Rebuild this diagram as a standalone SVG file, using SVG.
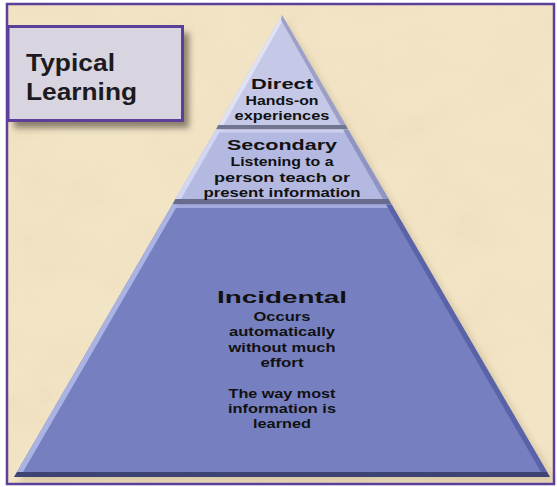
<svg xmlns="http://www.w3.org/2000/svg" width="557" height="487" viewBox="0 0 557 487">
  <defs>
    <filter id="paper" x="0" y="0" width="100%" height="100%">
      <feTurbulence type="fractalNoise" baseFrequency="0.012 0.018" numOctaves="4" seed="7" result="n"/>
      <feColorMatrix in="n" type="matrix" values="0 0 0 0 0.86  0 0 0 0 0.74  0 0 0 0 0.52  2.8 0 0 0 -1.05"/>
    </filter>
    <filter id="soft" x="-20%" y="-20%" width="140%" height="140%">
      <feGaussianBlur stdDeviation="3"/>
    </filter>
    <style>
      .frame{fill:none;stroke:#5b3f99;stroke-width:2.5}
      .title{font-family:"Liberation Sans",Arial,sans-serif;font-weight:bold;font-size:24px;fill:#1c1a1e}
      .head{font-family:"Liberation Sans",Arial,sans-serif;font-weight:bold;fill:#111;text-anchor:middle}
      .h1{font-size:15px}
      .h2{font-size:13px}
      .h3{font-size:17px}
    </style>
  </defs>

  <!-- background -->
  <rect x="0" y="0" width="557" height="487" fill="#ffffff"/>
  <rect x="7" y="4" width="547" height="480" fill="#f2e5c6"/>
  <rect x="7" y="4" width="547" height="480" filter="url(#paper)" opacity="0.7"/>

  <!-- soft pyramid shadow -->
  <polygon points="286,20 556,482 18,482" fill="#8a7a55" opacity="0.25" filter="url(#soft)"/>

  <!-- Direct tier -->
  <g id="tier-direct">
    <polygon points="282,15 345.8,125 218.2,125" fill="#c5c8e7"/>
    <polygon points="282,15 218.2,125 223.5,125 283,20" fill="#e0e2f4"/>
    <polygon points="282,15 345.8,125 340.5,125 281,20" fill="#9d9fc6"/>
    <polygon points="218.2,125 345.8,125 348.1,129.5 215.9,129.5" fill="#72758f"/>
    <text class="head h1" x="282" y="89" textLength="62" lengthAdjust="spacingAndGlyphs">Direct</text>
    <text class="head h2" x="282" y="105" textLength="73" lengthAdjust="spacingAndGlyphs">Hands-on</text>
    <text class="head h2" x="282" y="120" textLength="95" lengthAdjust="spacingAndGlyphs">experiences</text>
  </g>

  <!-- Secondary tier -->
  <g id="tier-secondary">
    <polygon points="215.9,129.5 348.1,129.5 388.7,199 175.3,199" fill="#b4b9e1"/>
    <polygon points="215.9,129.5 348.1,129.5 346.5,132.5 217.5,132.5" fill="#ccd0ee"/>
    <polygon points="215.9,129.5 175.3,199 181,199 221,129.5" fill="#d3d6f0"/>
    <polygon points="348.1,129.5 388.7,199 383,199 343,129.5" fill="#8f94c2"/>
    <polygon points="175.3,199 388.7,199 391.6,204.5 172.4,204.5" fill="#676b8c"/>
    <text class="head h1" x="282" y="150" textLength="110" lengthAdjust="spacingAndGlyphs">Secondary</text>
    <text class="head h2" x="282" y="166" textLength="103" lengthAdjust="spacingAndGlyphs">Listening to a</text>
    <text class="head h2" x="282" y="182" textLength="136" lengthAdjust="spacingAndGlyphs">person teach or</text>
    <text class="head h2" x="282" y="197" textLength="157" lengthAdjust="spacingAndGlyphs">present information</text>
  </g>

  <!-- Incidental tier -->
  <g id="tier-incidental">
    <polygon points="172.4,204.5 391.6,204.5 547.1,472 16.9,472" fill="#7680c1"/>
    <polygon points="172.4,204.5 391.6,204.5 389.8,208 174.2,208" fill="#a3aadd"/>
    <polygon points="172.4,204.5 16.9,472 23,472 178,204.5" fill="#abb3e3"/>
    <polygon points="391.6,204.5 547.1,472 541,472 386,204.5" fill="#5a63a7"/>
    <polygon points="16.9,472 547.1,472 550,477 14,477" fill="#3d4474"/>
    <text class="head h3" x="282" y="303" textLength="130" lengthAdjust="spacingAndGlyphs">Incidental</text>
    <text class="head h2" x="282" y="320.5" textLength="57" lengthAdjust="spacingAndGlyphs">Occurs</text>
    <text class="head h2" x="282" y="336" textLength="106" lengthAdjust="spacingAndGlyphs">automatically</text>
    <text class="head h2" x="282" y="351.5" textLength="107" lengthAdjust="spacingAndGlyphs">without much</text>
    <text class="head h2" x="282" y="366.5" textLength="43" lengthAdjust="spacingAndGlyphs">effort</text>
    <text class="head h2" x="282" y="398" textLength="107" lengthAdjust="spacingAndGlyphs">The way most</text>
    <text class="head h2" x="282" y="413" textLength="108" lengthAdjust="spacingAndGlyphs">information is</text>
    <text class="head h2" x="282" y="428" textLength="58" lengthAdjust="spacingAndGlyphs">learned</text>
  </g>

  <!-- title box -->
  <g id="title">
    <rect x="14" y="33" width="175" height="95" fill="#3a2f25" opacity="0.55" filter="url(#soft)"/>
    <rect x="8" y="26.5" width="174.5" height="94" fill="#d8d5e0" stroke="#5b3f99" stroke-width="3"/>
    <text class="title" x="26" y="70.5" textLength="89" lengthAdjust="spacingAndGlyphs">Typical</text>
    <text class="title" x="26" y="100" textLength="111" lengthAdjust="spacingAndGlyphs">Learning</text>
  </g>

  <!-- frame -->
  <rect class="frame" x="7" y="4" width="547" height="480"/>
</svg>
